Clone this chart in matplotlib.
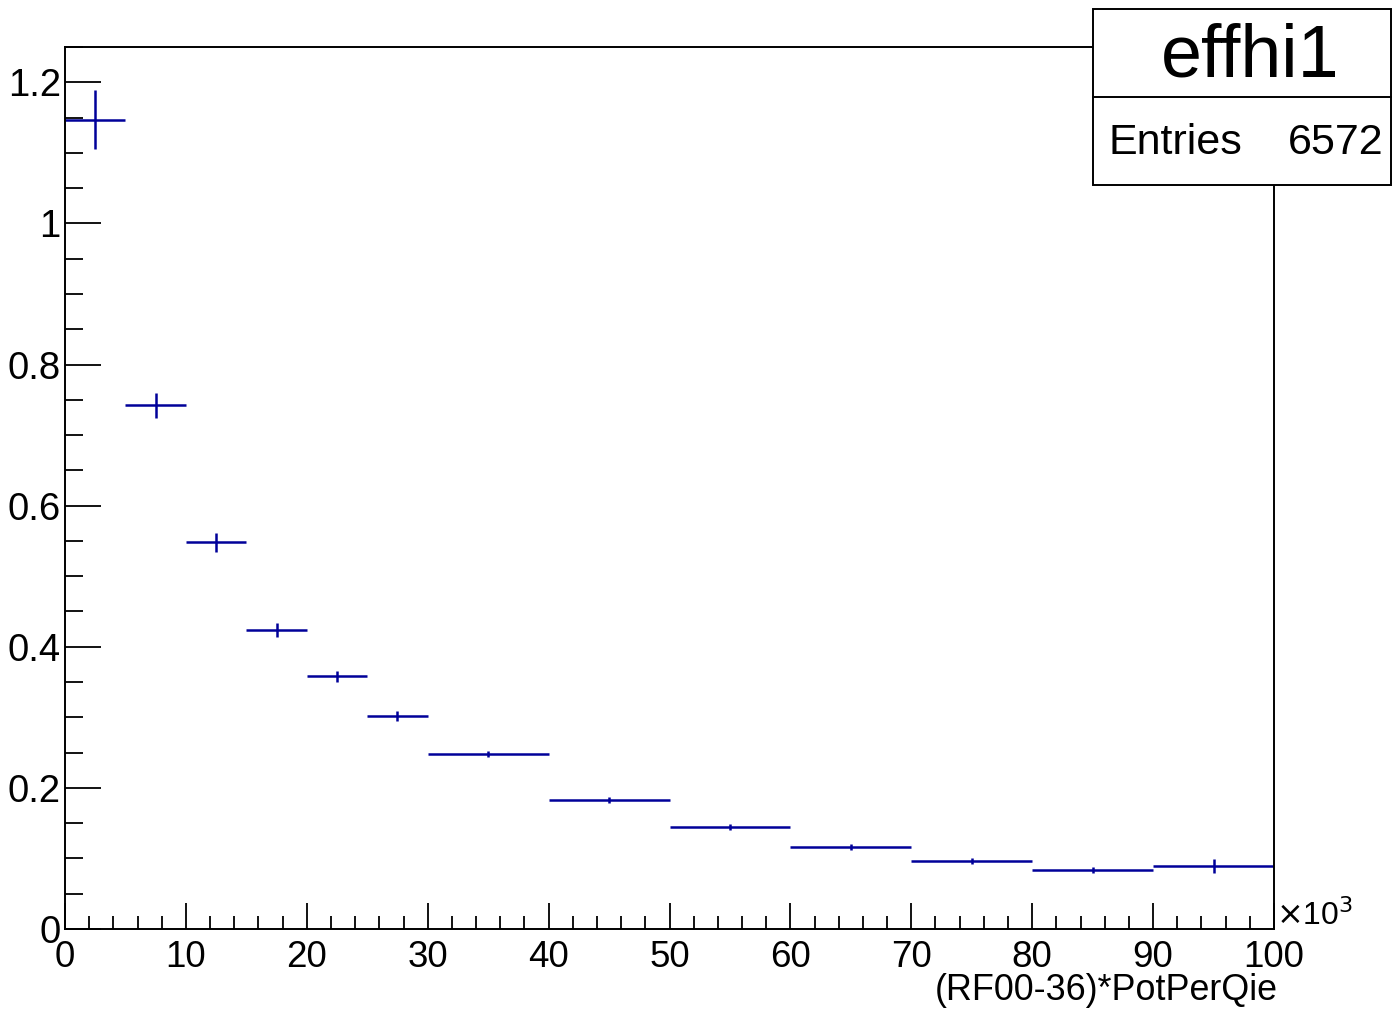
import matplotlib
matplotlib.use("Agg")
import matplotlib.pyplot as plt
from matplotlib.ticker import MultipleLocator
import numpy as np

plt.rcParams['font.family'] = ['Liberation Sans', 'DejaVu Sans']

# bin edges in units of 10^3
bin_edges = [0, 5, 10, 15, 20, 25, 30, 40, 50, 60, 70, 80, 90, 100]
values = [1.147, 0.742, 0.548, 0.424, 0.358, 0.302, 0.248, 0.183, 0.1445, 0.116, 0.0963, 0.0836, 0.089]
errors = [0.042, 0.018, 0.013, 0.010, 0.008, 0.007, 0.004, 0.004, 0.004, 0.004, 0.004, 0.004, 0.010]
x_ticks = [0, 10, 20, 30, 40, 50, 60, 70, 80, 90, 100]
y_ticks = [0, 0.2, 0.4, 0.6, 0.8, 1.0, 1.2]
y_tick_labels = ['0', '0.2', '0.4', '0.6', '0.8', '1', '1.2']
x_label = "(RF00-36)*PotPerQie"
hist_name = "effhi1"
entries = "6572"

W, H = 1392, 1009
fig = plt.figure(figsize=(W / 100, H / 100), dpi=100)
ax = fig.add_axes([65 / W, 1 - 929 / H, (1274 - 65) / W, (929 - 47) / H])

edges = np.array(bin_edges, dtype=float)
centers = 0.5 * (edges[:-1] + edges[1:])
halfw = 0.5 * (edges[1:] - edges[:-1])
col = '#000099'
ax.errorbar(centers, values, xerr=halfw, yerr=errors, fmt='none',
            ecolor=col, elinewidth=1.8, capsize=0)

ax.set_xlim(0, 100)
ax.set_ylim(0, 1.25)
ax.set_xticks(x_ticks)
ax.set_xticklabels([str(t) for t in x_ticks])
ax.set_yticks(y_ticks)
ax.set_yticklabels(y_tick_labels)
ax.xaxis.set_minor_locator(MultipleLocator(2))
ax.yaxis.set_minor_locator(MultipleLocator(0.05))

ax.tick_params(axis='both', which='both', direction='in', top=False, right=False,
               width=1.3, colors='black')
ax.tick_params(axis='x', which='major', length=19, pad=8, labelsize=26.5)
ax.tick_params(axis='x', which='minor', length=9.5)
ax.tick_params(axis='y', which='major', length=26, pad=3, labelsize=27.5)
ax.tick_params(axis='y', which='minor', length=13)
for s in ax.spines.values():
    s.set_linewidth(1.4)

fig.text(1278 / W, 1 - 990 / H, x_label, ha='right', va='center', fontsize=25.8)
fig.text(1276 / W, 1 - 916 / H, r'$\times$10$^{3}$', ha='left', va='center', fontsize=23)

# stats box
box = plt.Rectangle((1093 / W, 1 - 185 / H), (1391 - 1093) / W, (185 - 9) / H,
                    transform=fig.transFigure, facecolor='white', edgecolor='black',
                    linewidth=1.4, zorder=5)
fig.add_artist(box)
fig.add_artist(plt.Line2D([1093 / W, 1391 / W], [1 - 97 / H, 1 - 97 / H],
                          transform=fig.transFigure, color='black', linewidth=1.4, zorder=6))
fig.text(1250 / W, 1 - 57 / H, hist_name, ha='center', va='center', fontsize=53, zorder=7)
fig.text(1108 / W, 1 - 143 / H, "Entries", ha='left', va='center', fontsize=31, zorder=7)
fig.text(1383 / W, 1 - 143 / H, entries, ha='right', va='center', fontsize=31, zorder=7)

fig.savefig("out.png", dpi=100)
